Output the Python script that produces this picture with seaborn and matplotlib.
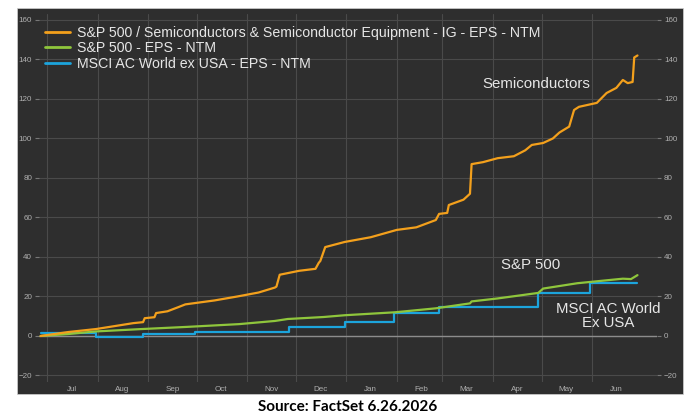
import pandas as pd
import matplotlib
matplotlib.use('Agg')
import matplotlib.pyplot as plt
from matplotlib.patches import Rectangle
import seaborn as sns

# Semiconductors EPS NTM (% change)
semi_dates = ['2025-06-27', '2025-07-14', '2025-07-31', '2025-08-23', '2025-08-29', '2025-08-30',
              '2025-09-05', '2025-09-06', '2025-09-13', '2025-09-20', '2025-09-24', '2025-10-12',
              '2025-10-26', '2025-11-08', '2025-11-18', '2025-11-19', '2025-11-21', '2025-12-03',
              '2025-12-13', '2025-12-15', '2025-12-16', '2025-12-19', '2025-12-31', '2026-01-16',
              '2026-02-01', '2026-02-13', '2026-02-25', '2026-02-27', '2026-03-04', '2026-03-05',
              '2026-03-14', '2026-03-18', '2026-03-19', '2026-03-26', '2026-04-04', '2026-04-14',
              '2026-04-21', '2026-04-25', '2026-05-02', '2026-05-08', '2026-05-12', '2026-05-18',
              '2026-05-21', '2026-05-24', '2026-06-04', '2026-06-10', '2026-06-16', '2026-06-20',
              '2026-06-23', '2026-06-26', '2026-06-27', '2026-06-29']
semi_vals = [0, 2, 3.5, 6.5, 7, 9,
             9.5, 11.6, 12.5, 14.7, 16, 18,
             20, 22, 24.5, 25, 31, 33,
             34, 37, 38, 45, 47.6, 50,
             53.7, 55, 58.7, 61.8, 62.3, 66.3,
             69, 72, 87, 88, 90, 91,
             94, 96.7, 97.7, 100, 103, 106,
             114.4, 116, 118, 123, 125.6, 129.6,
             128, 128.6, 141, 142]

# S&P 500 EPS NTM
spx_dates = ['2025-06-27', '2025-07-14', '2025-07-31', '2025-08-28', '2025-09-25', '2025-10-27',
             '2025-11-18', '2025-11-26', '2025-12-18', '2025-12-31', '2026-01-31', '2026-02-25',
             '2026-03-18', '2026-03-19', '2026-04-04', '2026-04-29', '2026-05-02', '2026-05-23',
             '2026-06-20', '2026-06-25', '2026-06-29']
spx_vals = [0, 1, 2.3, 3.5, 4.6, 6,
            7.6, 8.6, 9.6, 10.5, 12, 14,
            16.5, 17.5, 19, 21.8, 24, 26.7,
            29, 28.8, 30.8]

# MSCI AC World ex USA EPS NTM (step changes)
msci_dates = ['2025-06-27', '2025-07-31', '2025-08-29', '2025-09-30', '2025-11-27', '2025-12-31',
              '2026-01-30', '2026-02-27', '2026-04-29', '2026-05-31', '2026-06-29']
msci_vals = [1.5, -0.5, 1, 2, 4.5, 7,
             11.6, 14.7, 22, 26.8, 26.8]

labels = ['S&P 500 / Semiconductors & Semiconductor Equipment - IG - EPS - NTM',
          'S&P 500 - EPS - NTM',
          'MSCI AC World ex USA - EPS - NTM']
colors = ['#f3a01c', '#8fc63c', '#1ca4dc']
month_names = ['Jul', 'Aug', 'Sep', 'Oct', 'Nov', 'Dec', 'Jan', 'Feb', 'Mar', 'Apr', 'May', 'Jun']

semi = pd.DataFrame({'date': pd.to_datetime(semi_dates), 'value': semi_vals})
spx = pd.DataFrame({'date': pd.to_datetime(spx_dates), 'value': spx_vals})
msci = pd.DataFrame({'date': pd.to_datetime(msci_dates), 'value': msci_vals})

bg = '#2e2e2e'
sns.set_style("dark")
plt.rcParams['font.family'] = ['Liberation Sans', 'DejaVu Sans']

fig = plt.figure(figsize=(6.92, 4.16), dpi=100)
fig.patch.set_facecolor('white')
panel = Rectangle((17 / 692, 1 - 394 / 416), 666 / 692, 386 / 416,
                  transform=fig.transFigure, facecolor=bg, edgecolor='#d0d0d0',
                  linewidth=0.5, zorder=-5)
fig.add_artist(panel)
ax = fig.add_axes([39 / 692, 1 - 382 / 416, 618 / 692, 368 / 416])
ax.set_zorder(2)
ax.set_facecolor(bg)

sns.lineplot(data=msci, x='date', y='value', ax=ax, color=colors[2], linewidth=1.6,
             drawstyle='steps-post', label=labels[2])
sns.lineplot(data=spx, x='date', y='value', ax=ax, color=colors[1], linewidth=1.6, label=labels[1])
sns.lineplot(data=semi, x='date', y='value', ax=ax, color=colors[0], linewidth=1.6, label=labels[0])

ax.set_xlim(pd.Timestamp('2025-06-26'), pd.Timestamp('2026-07-11'))
ax.set_ylim(-23.3, 163)
ax.set_yticks(range(-20, 161, 20))
ax.axhline(0, color='#8c8c8c', linewidth=1, zorder=1)

month_starts = pd.date_range('2025-07-01', '2026-06-01', freq='MS')
ax.set_xticks(month_starts)
ax.set_xticklabels([])
ax.set_xticks(month_starts + pd.Timedelta(days=15), minor=True)
ax.set_xticklabels(month_names, minor=True)
ax.grid(True, which='major', color='#4a4a4a', linewidth=0.8)
ax.tick_params(axis='x', which='minor', length=0, labelsize=5.8, labelcolor='#b0b0b0', pad=3)
ax.tick_params(axis='x', which='major', length=3, color='#777777')
ax.tick_params(axis='y', labelsize=5.8, labelcolor='#b0b0b0', length=3, color='#777777',
               left=True, right=True, labelleft=True, labelright=True, pad=2)
ax.set_xlabel('')
ax.set_ylabel('')
for s in ax.spines.values():
    s.set_visible(False)

handles, labs = ax.get_legend_handles_labels()
order = [labs.index(l) for l in labels]
leg = ax.legend([handles[i] for i in order], labels, loc='upper left',
                bbox_to_anchor=(0.0, 0.982), frameon=False, fontsize=10.2,
                labelcolor='#e6e6e6', handlelength=1.8, handletextpad=0.5,
                labelspacing=0.08, borderaxespad=0.0)
for h in leg.get_lines():
    h.set_linewidth(2)

ax.text(pd.Timestamp('2026-04-28'), 127.6, 'Semiconductors', color='#e6e6e6', fontsize=10.8,
        ha='center', va='center')
ax.text(pd.Timestamp('2026-04-24'), 36, 'S&P 500', color='#e6e6e6', fontsize=10.8,
        ha='center', va='center')
ax.text(pd.Timestamp('2026-06-11'), 10.2, 'MSCI AC World\nEx USA', color='#e6e6e6', fontsize=10.8,
        ha='center', va='center', linespacing=0.95)

fig.text(0.503, 1 - 407 / 416, 'Source: FactSet 6.26.2026', ha='center', va='center',
         fontsize=11, fontweight='bold', color='black', family=['Lato', 'DejaVu Sans'])

fig.savefig('out.png', dpi=100, facecolor=fig.get_facecolor())
